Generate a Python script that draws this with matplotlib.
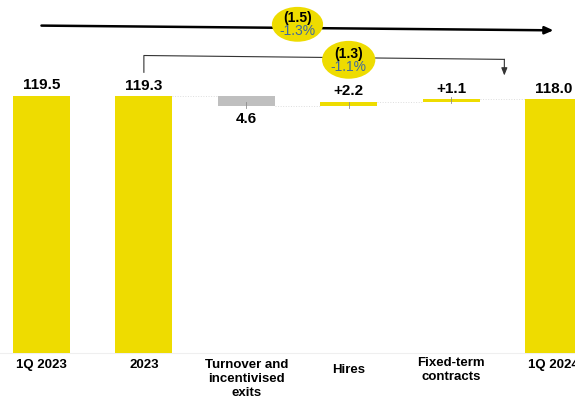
import matplotlib
matplotlib.use("Agg")
import matplotlib.pyplot as plt
from matplotlib.patches import Ellipse
import numpy as np

# data
categories = ["1Q 2023", "2023", "Turnover and\nincentivised\nexits", "Hires",
              "Fixed-term\ncontracts", "1Q 2024"]
start_prev = 119.5
start_year = 119.3
deltas = [-4.6, 2.2, 1.1]
end_value = 118.0
value_labels = ["119.5", "119.3", "4.6", "+2.2", "+1.1", "118.0"]
total_change = ["(1.5)", "-1.3%"]
ytd_change = ["(1.3)", "-1.1%"]

yellow = "#EEDC00"
grey = "#BFBFBF"
blue = "#41699B"
font = "Liberation Sans"

fig = plt.figure(figsize=(5.75, 4.01), dpi=100)
ax = fig.add_axes([0, 0, 1, 1])
ax.set_xlim(-0.405, 5.21)
ax.set_ylim(-22.3, 164.1)
ax.axis("off")

x = np.arange(len(categories))
w = 0.555

# waterfall
levels = [start_year]
for d in deltas:
    levels.append(levels[-1] + d)
bottoms = [0, 0]
heights = [start_prev, start_year]
colors = [yellow, yellow]
for i, d in enumerate(deltas):
    bottoms.append(min(levels[i], levels[i + 1]))
    heights.append(abs(d))
    colors.append(grey if d < 0 else yellow)
bottoms.append(0)
heights.append(end_value)
colors.append(yellow)

ax.bar(x, heights, bottom=bottoms, width=w, color=colors, edgecolor="none", zorder=2)

# faint baseline and connectors
ax.axhline(0, color="#EFEFEF", lw=0.8, zorder=1)
conn = [start_year] + levels[1:]
for i, lv in enumerate(conn):
    ax.plot([x[i + 1] + w / 2, x[i + 2] - w / 2], [lv, lv], color="#DDDDDD",
            lw=0.7, ls=":", zorder=1)

# small ticks on delta bars
for i in range(2, 5):
    ax.plot([x[i], x[i]], [bottoms[i] - 0.6, bottoms[i] + 2.2], color="#8C8C8C",
            lw=0.6, zorder=3)

# value labels
for i, lab in enumerate(value_labels):
    top = bottoms[i] + heights[i]
    if i == 2:
        ax.annotate(lab, (x[i], bottoms[i]), xytext=(0, -4), textcoords="offset points",
                    ha="center", va="top", fontsize=11, fontweight="bold", family=font)
    else:
        ax.annotate(lab, (x[i], top), xytext=(0, 2.5), textcoords="offset points",
                    ha="center", va="bottom", fontsize=11, fontweight="bold", family=font)

# category labels
label_tops = [-3.0, -3.0, -3.0, -5.2, -1.8, -3.0]
for i, lab in enumerate(categories):
    ax.text(x[i], label_tops[i], lab, ha="center", va="top", fontsize=9.5,
            fontweight="bold", family=font, linespacing=1.2)

# top arrow 1Q 2023 -> 1Q 2024
ax.annotate("", xy=(x[5], 150.0), xytext=(x[0], 152.2),
            arrowprops=dict(arrowstyle="-|>,head_length=0.5,head_width=0.22",
                            color="black", lw=1.8, shrinkA=0, shrinkB=0))

# bracket 2023 -> 1Q 2024
ax.plot([x[1], x[1], x[5] - 0.48], [130.5, 138.3, 136.5], color="#333333", lw=0.8)
ax.annotate("", xy=(x[5] - 0.48, 129.0), xytext=(x[5] - 0.48, 136.5),
            arrowprops=dict(arrowstyle="-|>,head_length=0.45,head_width=0.18",
                            color="#333333", lw=0.8, shrinkA=0, shrinkB=0))

# change bubbles
for (cx, cy, ew, eh, txt) in [((x[0] + x[5]) / 2, 152.8, 0.50, 16.2, total_change),
                               ((x[1] + x[5]) / 2, 136.3, 0.52, 17.6, ytd_change)]:
    ax.add_patch(Ellipse((cx, cy), ew, eh, facecolor=yellow, edgecolor="none", zorder=4))
    ax.text(cx, cy + 2.8, txt[0], ha="center", va="center", fontsize=10,
            fontweight="bold", family=font, zorder=5)
    ax.text(cx, cy - 3.2, txt[1], ha="center", va="center", fontsize=10,
            color=blue, family=font, zorder=5)

fig.savefig("out.png", dpi=100)
